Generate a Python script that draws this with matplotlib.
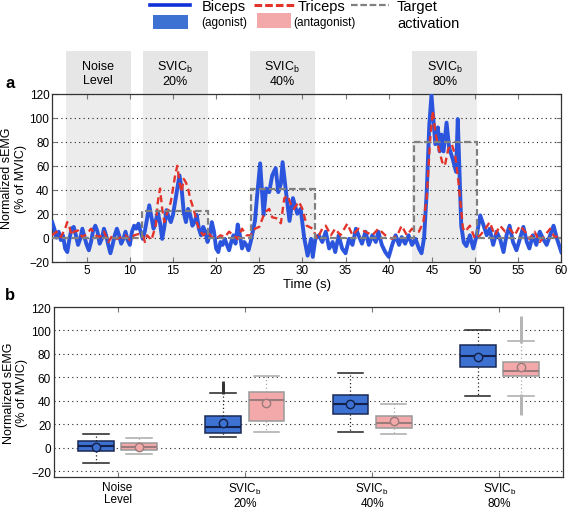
import numpy as np
import matplotlib
matplotlib.use("Agg")
import matplotlib.pyplot as plt
from matplotlib.lines import Line2D
from matplotlib.patches import Rectangle

# ---- panel a: time series ----
bic_t = [1.0, 1.25, 1.5, 1.75, 2.0, 2.25, 2.5, 2.75, 3.0, 3.25, 3.5, 3.75, 4.0, 4.25,
         4.5, 4.75, 5.0, 5.25, 5.5, 5.75, 6.0, 6.25, 6.5, 6.75, 7.0, 7.25, 7.5, 7.75,
         8.0, 8.25, 8.5, 8.75, 9.0, 9.25, 9.5, 9.75, 10.0, 10.25, 10.5, 10.75, 11.0,
         11.25, 11.5, 11.75, 12.0, 12.25, 12.5, 12.75, 13.0, 13.25, 13.5, 13.75, 14.0,
         14.25, 14.5, 14.75, 15.0, 15.25, 15.5, 15.75, 16.0, 16.25, 16.5, 16.75, 17.0,
         17.25, 17.5, 17.75, 18.0, 18.25, 18.5, 18.75, 19.0, 19.25, 19.5, 19.75, 20.0,
         20.25, 20.5, 20.75, 21.0, 21.25, 21.5, 21.75, 22.0, 22.25, 22.5, 22.75, 23.0,
         23.25, 23.5, 23.75, 24.0, 24.25, 24.5, 24.75, 25.1, 25.3, 25.5, 25.8, 26.15,
         26.5, 26.9, 27.2, 27.5, 27.7, 28.1, 28.5, 28.9, 29.4, 29.8, 30.2, 30.6, 31.0,
         31.2, 31.5, 31.9, 32.3, 32.7, 33.1, 33.5, 33.8, 34.2, 34.6, 35.0, 35.4, 35.8,
         36.2, 36.5, 36.9, 37.3, 37.7, 38.1, 38.5, 38.8, 39.2, 39.6, 40.0, 40.4, 40.8,
         41.2, 41.5, 41.9, 42.3, 42.7, 43.1, 43.5, 43.8, 44.1, 44.4, 44.7, 44.95, 45.2,
         45.4, 45.7, 45.9, 46.1, 46.35, 46.7, 47.0, 47.4, 47.8, 48.0, 48.2, 48.4, 48.7,
         49.0, 49.4, 49.8, 50.2, 50.6, 51.0, 51.35, 51.7, 52.1, 52.5, 52.9, 53.3, 53.65,
         54.0, 54.4, 54.8, 55.2, 55.6, 56.0, 56.3, 56.7, 57.1, 57.5, 57.9, 58.3, 58.7,
         59.1, 59.5, 60.0]
bic_v = [13, 7.5, 0, 5, -2, 2, -9, -12, -1, 7.5, 9, 2, -6, -1,
         7.5, 0.5, -6, -10.5, -3.6, 6, 10, 5, -5, -1, 7.5, 2, -6, -13,
         -6, 2, 7.5, 2, -5, -1, 5, -2, -6, 5, 10, 7.5, 11.7,
         5, -1, 6, 16, 27, 17, 7.5, 14, 21, 12, -1, 9,
         23, 17, 13, 19, 30, 41, 52, 41, 21, 13, 24, 19,
         10, 13, 19, 7.5, 2, 9, 5, -3.6, 2, 13, 5, -9,
         -12, -3.6, -6, -1, -6, -10.5, -3.6, 2, -5, 11, 2, -9,
         -3.6, -6, -10.5, -3.6, 5, 14, 35, 62, 40, 19, 41, 38,
         52, 58, 38, 45, 63, 38, 14, 33, 20, 24, 0, -15, -1,
         -16, -1, 2, -3.6, 5, -9, -3.6, -12, 2, -9, -13, -1, -6,
         7.5, 2, -5, 5, -6, 2, -3.6, 5, -6, -12, -16, -6, 2,
         -6, 0.5, -5, 2, -6, -1, -9, -13, 0, 38, 94, 119, 96,
         78, 92, 72, 86, 72, 96, 75, 66, 55, 99, 55, 10, -4,
         -7, 2, -9, 2, 18.6, 10, 2, 7.5, -6, 5, -1, -12, 2,
         10, -3.6, -10.5, -1, 9, -3.6, -9, 2, -6, 5, -1, -6, 2,
         10, -1, -12]

tri_t = [1.0, 1.5, 2.0, 2.5, 2.75, 3.0, 3.25, 3.5, 4.0, 4.5, 5.0, 5.5, 6.0, 6.5, 7.0,
         7.5, 8.0, 8.5, 9.0, 9.5, 10.0, 10.5, 11.0, 11.5, 11.75, 12.0, 12.5, 13.0,
         13.25, 13.5, 13.75, 14.0, 14.25, 14.5, 14.75, 15.0, 15.25, 15.5, 15.75, 16.0,
         16.25, 16.5, 16.75, 17.0, 17.25, 17.5, 17.75, 18.0, 18.5, 19.0, 19.5, 20.0,
         20.5, 21.0, 21.5, 22.0, 22.5, 23.0, 23.5, 24.0, 24.5, 25.0, 25.5, 25.8, 26.15,
         26.5, 27.1, 27.5, 27.9, 28.3, 28.7, 29.0, 29.6, 30.0, 30.5, 31.2, 31.7, 32.3,
         32.7, 33.3, 33.8, 34.4, 35.2, 35.8, 36.5, 37.3, 38.1, 38.8, 39.6, 40.4, 41.0,
         41.5, 42.1, 42.7, 43.5, 44.0, 44.4, 44.8, 45.1, 45.4, 45.8, 46.2, 46.5, 46.9,
         47.3, 47.7, 48.1, 48.3, 48.6, 48.85, 49.4, 50.0, 50.6, 51.2, 51.7, 52.3, 52.9,
         53.5, 54.0, 54.6, 55.2, 55.8, 56.3, 56.9, 57.5, 58.1, 58.7, 59.2, 60.0]
tri_v = [2, 5, 0.5, 7.5, 13, 9, 2, 5, 6, 0.5, 3, 7.5, 2, 0.5, 5,
         -3.6, 2, -1, 0.5, 2, -2, 2, 3, 2, -3.6, 2, -2, 10,
         30, 41, 24, 13, 19, 24, 30, 41, 52, 60, 46, 38,
         49, 46, 41, 32.5, 27, 21, 13, 7.5, 2, 5, 0.5, -1,
         2, 0.5, 5, 2, -1, 7.5, 2, 2, 7.5, 9, 18.6, 22, 24,
         17, 16, 12, 33, 35, 27, 24, 30, 24, 10, 7.5, -1, 7.5,
         10, 2, 7.5, 2, 11.7, 2, 7.5, 5, 2, 7.5, 2, -1, 2,
         10, 2, 7.5, 5, 13, 32.5, 82, 106, 88, 74, 63, 60, 74,
         78, 69, 45, 30, 8, 5, 10, -1, 2, 7.5, 13, 2, 10,
         5, 7.5, 2, 10, 5, -1, 5, -3.6, 2, 7.5, 0.5, 2]

target_edges = [1, 11.4, 19.0, 24.0, 31.4, 42.9, 50.2, 60]
target_levels = [0, 22, 0, 41, 0, 80, 0]

band_start = [2.6, 11.5, 23.9, 42.75]
band_end = [10.1, 19.0, 31.4, 50.25]
band_labels = ["Noise\nLevel", "SVIC$_\\mathregular{b}$\n20%",
               "SVIC$_\\mathregular{b}$\n40%", "SVIC$_\\mathregular{b}$\n80%"]

# ---- panel b: box statistics ----
groups = ["Noise\nLevel", "SVIC$_\\mathregular{b}$\n20%",
          "SVIC$_\\mathregular{b}$\n40%", "SVIC$_\\mathregular{b}$\n80%"]
bic_lo = [-12.9, 9, 13.5, 44.4]
bic_q1 = [-3.1, 12.3, 28.7, 68.8]
bic_med = [1.4, 17.7, 37, 78]
bic_q3 = [5.4, 26.6, 45, 88]
bic_hi = [11.7, 46.9, 63.6, 100]
bic_mean = [0.5, 21, 37.5, 77.6]
bic_out = [[], [48, 49, 50, 51, 52, 53, 54], [], []]
tri_lo = [-5.7, 13.1, 11.2, 44.1]
tri_q1 = [-2.3, 23.1, 16.6, 61.3]
tri_med = [0.5, 40.6, 20.9, 65.3]
tri_q3 = [4, 47.7, 27.2, 73]
tri_hi = [8.6, 61.4, 37, 90.8]
tri_mean = [0.5, 38, 22.6, 68.8]
tri_out = [[], [], [],
           [92, 93, 94, 95, 96, 97, 98, 99, 100, 101, 102, 103, 104, 105, 106,
            107, 108, 109, 109.5, 30.5, 31.5, 32.5, 33.5, 34.5, 35.5, 36.5, 37.5,
            38.5, 39.5, 40.5, 41.5, 42.5, 43.2]]

BLUE = "#2b55dc"
RED = "#e3342b"
GRAY = "#808080"
BOXBLUE = "#3d72d2"
BOXPINK = "#f3a9a9"

plt.rcParams.update({"font.family": ["Liberation Sans", "DejaVu Sans"],
                     "font.size": 8.5, "axes.linewidth": 0.9,
                     "axes.edgecolor": "#333333"})

fig = plt.figure(figsize=(5.67, 5.10), dpi=100)
ax = fig.add_axes([0.092, 0.485, 0.898, 0.329])
bx = fig.add_axes([0.095, 0.063, 0.898, 0.333])

# bands + label boxes above the axes
for s, e, lab in zip(band_start, band_end, band_labels):
    ax.add_patch(Rectangle((s, -20), e - s, 140, color="#ececec", lw=0, zorder=0))
    ax.add_patch(Rectangle((s, 120), e - s, 36, color="#e6e6e6", lw=0,
                           zorder=0, clip_on=False))
    ax.text((s + e) / 2, 137.5, lab, ha="center", va="center", fontsize=9,
            linespacing=1.15)

ax.plot(bic_t, bic_v, color=BLUE, lw=2.8, zorder=3, solid_joinstyle="round")
ax.plot(tri_t, tri_v, color=RED, lw=1.7, ls=(0, (3, 1.8)), zorder=4)
ax.stairs(target_levels, target_edges, color=GRAY, lw=1.6, ls=(0, (3, 1.5)),
          baseline=None, zorder=5)

ax.set_xlim(1, 60)
ax.set_ylim(-20, 120)
ax.set_xticks([5, 10, 15, 20, 25, 30, 35, 40, 45, 50, 55, 60])
ax.set_yticks(np.arange(-20, 121, 20))
ax.set_xlabel("Time (s)", fontsize=9.5, labelpad=1)
ax.set_ylabel("Normalized sEMG\n(% of MVIC)", fontsize=9, labelpad=2)
ax.set_axisbelow(True)
ax.yaxis.grid(True, ls=(0, (1, 3)), color="#222222", lw=0.8)
ax.tick_params(direction="in", top=True, right=True, length=3.5, color="#777777",
               pad=2, labelsize=8.5)

# ---- box plot ----
def make_stats(lo, q1, med, q3, hi, mean, out):
    return [dict(whislo=a, q1=b, med=c, q3=d, whishi=e, mean=f, fliers=g)
            for a, b, c, d, e, f, g in zip(lo, q1, med, q3, hi, mean, out)]

pos = np.arange(1, len(groups) + 1)
for stats, off, fc, ec, wc, mc, fl in [
        (make_stats(bic_lo, bic_q1, bic_med, bic_q3, bic_hi, bic_mean, bic_out),
         -0.17, BOXBLUE, "#1a2a55", "#222222", "#132049", "#333333"),
        (make_stats(tri_lo, tri_q1, tri_med, tri_q3, tri_hi, tri_mean, tri_out),
         0.17, BOXPINK, "#9a9a9a", "#aaaaaa", "#9b7b7b", "#b5b5b5")]:
    bx.bxp(stats, positions=pos + off, widths=0.28, patch_artist=True,
           showmeans=True, manage_ticks=False,
           boxprops=dict(facecolor=fc, edgecolor=ec, lw=1.1),
           medianprops=dict(color=mc, lw=1.5),
           whiskerprops=dict(color=wc, lw=0.9, ls=(0, (1, 2))),
           capprops=dict(color=wc, lw=1.1),
           capwidths=0.2,
           meanprops=dict(marker="o", markerfacecolor=fc, markeredgecolor=mc,
                          markersize=6),
           flierprops=dict(marker="|", markeredgecolor=fl, markersize=4,
                           markeredgewidth=2))

bx.set_xlim(0.5, 4.5)
bx.set_ylim(-25, 120)
bx.set_xticks(pos)
bx.set_xticklabels(groups, fontsize=9, linespacing=1.05)
bx.set_yticks(np.arange(-20, 121, 20))
bx.set_ylabel("Normalized sEMG\n(% of MVIC)", fontsize=9, labelpad=2)
bx.set_axisbelow(True)
bx.yaxis.grid(True, ls=(0, (1, 3)), color="#222222", lw=0.8)
bx.tick_params(direction="in", top=True, right=False, length=3.5, color="#777777",
               pad=3, labelsize=8.5)
bx.tick_params(axis="y", pad=2, length=0)

# panel letters
fig.text(5 / 567, 1 - 84 / 510, "a", fontsize=12, fontweight="bold", va="center")
fig.text(5 / 567, 1 - 296 / 510, "b", fontsize=12, fontweight="bold", va="center")

# custom legend at the top
def px(x, y):
    return x / 567, 1 - y / 510

def leg_line(x0, x1, y, **kw):
    (a, b), (c, _) = px(x0, y), px(x1, y)
    fig.add_artist(Line2D([a, c], [b, b], transform=fig.transFigure, **kw))

leg_line(150, 190, 5.5, color="#1030d8", lw=2.6)
leg_line(254, 296, 5.5, color=RED, lw=2.2, ls=(0, (2.5, 1)))
leg_line(351, 389, 5.5, color=GRAY, lw=1.6, ls=(0, (3, 1.2)))
for x0, x1, y0, y1, c in [(153, 188, 16, 30, BOXBLUE), (257, 291, 14, 29, BOXPINK)]:
    a, b = px(x0, y1)
    fig.add_artist(Rectangle((a, b), (x1 - x0) / 567, (y1 - y0) / 510,
                             transform=fig.transFigure, color=c, lw=0))
for x, y, s, fs in [(202, 7, "Biceps", 10.5), (201, 23, "(agonist)", 8.5),
                    (298, 7, "Triceps", 10.5), (293, 23, "(antagonist)", 8.5),
                    (397, 7, "Target", 10.5), (397, 24, "activation", 10.5)]:
    a, b = px(x, y)
    fig.text(a, b, s, fontsize=fs, va="center", ha="left")

fig.savefig("out.png", dpi=100)
